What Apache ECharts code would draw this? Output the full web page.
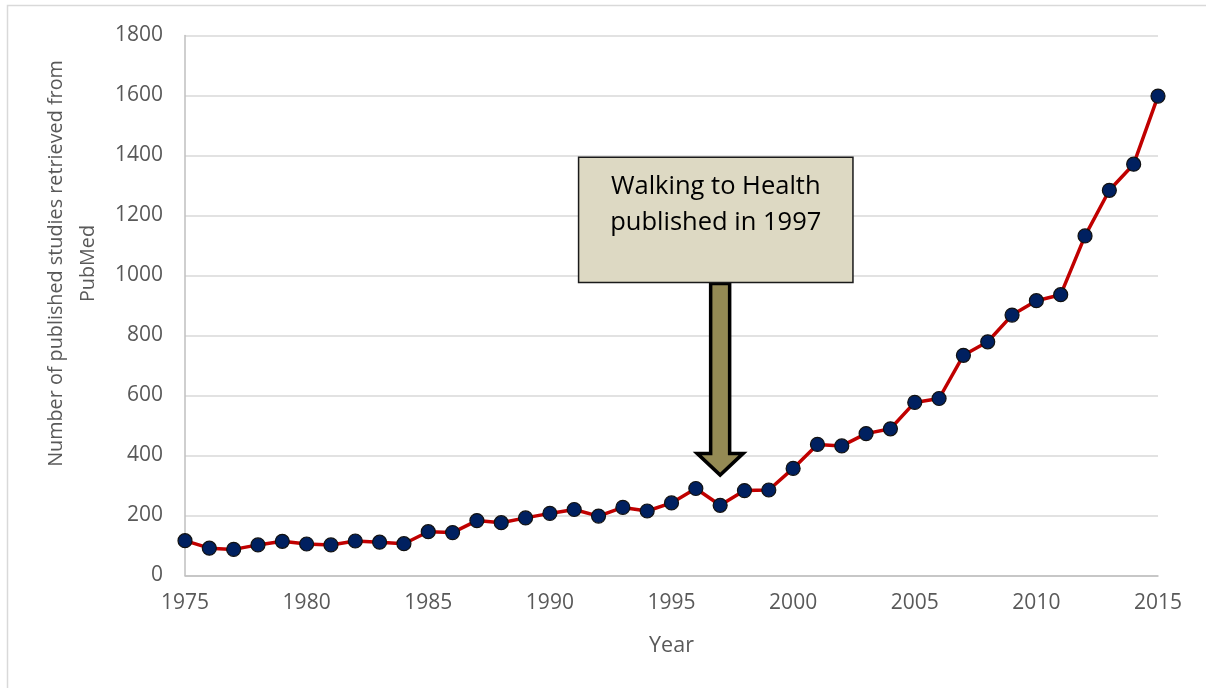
<!DOCTYPE html>
<html>
<head>
<meta charset="utf-8">
<script src="https://cdn.jsdelivr.net/npm/echarts@6/dist/echarts.min.js"></script>
<style>
html,body{margin:0;padding:0;background:#fff;}
#chart{width:1206px;height:688px;}
</style>
</head>
<body>
<div id="chart"></div>
<script>
const years = [1975,1976,1977,1978,1979,1980,1981,1982,1983,1984,1985,1986,1987,1988,1989,1990,1991,1992,1993,1994,1995,1996,1997,1998,1999,2000,2001,2002,2003,2004,2005,2006,2007,2008,2009,2010,2011,2012,2013,2014,2015];
const studies = [116,91,87,102,114,105,102,115,111,106,146,143,183,176,192,207,220,198,227,215,242,290,234,283,285,357,437,432,473,489,577,590,734,779,868,916,936,1132,1284,1371,1598];
const yTicks = [0,200,400,600,800,1000,1200,1400,1600,1800];
const xTicks = [1975,1980,1985,1990,1995,2000,2005,2010,2015];
const annotationYear = 1997;
const annotationLines = ['Walking to Health', 'published in 1997'];
const yTitle = 'Number of published studies retrieved from\nPubMed';
const xTitle = 'Year';

const FONT = '"Open Sans", "Noto Sans", sans-serif';
const chart = echarts.init(document.getElementById('chart'), null, {renderer: 'canvas'});

const option = {
  backgroundColor: '#ffffff',
  animation: false,
  grid: {left: 185, right: 48, top: 35.5, bottom: 112.5, containLabel: false},
  xAxis: {
    type: 'value',
    min: xTicks[0], max: xTicks[xTicks.length - 1], interval: 5,
    name: xTitle, nameLocation: 'middle', nameGap: 59,
    nameTextStyle: {color: '#595959', fontSize: 21.5, fontFamily: FONT},
    axisLine: {show: true, lineStyle: {color: '#bfbfbf', width: 1.5}},
    axisTick: {show: false},
    splitLine: {show: false},
    axisLabel: {color: '#595959', fontSize: 21, fontFamily: FONT, margin: 17, formatter: v => String(v)}
  },
  yAxis: {
    type: 'value',
    min: yTicks[0], max: yTicks[yTicks.length - 1], interval: 200,
    name: yTitle, nameLocation: 'middle', nameGap: 79, nameRotate: 90,
    nameTextStyle: {color: '#595959', fontSize: 19.8, fontFamily: FONT, lineHeight: 32, align: 'center', padding: [0,0,0,84]},
    axisLine: {show: true, lineStyle: {color: '#bfbfbf', width: 1.5}},
    axisTick: {show: false},
    splitLine: {show: true, lineStyle: {color: '#d9d9d9', width: 1.5}},
    axisLabel: {color: '#595959', fontSize: 21, fontFamily: FONT, margin: 22, formatter: v => String(v)}
  },
  series: [{
    type: 'line',
    data: years.map((y, i) => [y, studies[i]]),
    symbol: 'circle',
    symbolSize: 14,
    lineStyle: {color: '#c00000', width: 3.5},
    itemStyle: {color: '#002060', borderColor: '#111111', borderWidth: 1.2},
    z: 3
  }]
};
chart.setOption(option);

// Annotation anchored in data coordinates
const p = (x, y) => chart.convertToPixel({gridIndex: 0}, [x, y]);
const boxTL = p(1991.18, 1394);
const boxBR = p(2002.46, 977);
const cx = p(annotationYear, 0)[0];
const headBase = p(annotationYear, 407)[1];
const tip = p(annotationYear, 335)[1];
const shaftTop = boxBR[1] + 1;
const sw = 9.5, hw = 23;

chart.setOption({
  graphic: [
    {
      type: 'rect', silent: true, z: 0,
      shape: {x: 7.5, y: 5.5, width: 1300, height: 800},
      style: {fill: 'none', stroke: '#d9d9d9', lineWidth: 1.5}
    },
    {
      type: 'polygon', silent: true, z: 10,
      shape: {points: [
        [cx - sw, shaftTop], [cx + sw, shaftTop], [cx + sw, headBase],
        [cx + hw, headBase], [cx, tip], [cx - hw, headBase], [cx - sw, headBase]
      ]},
      style: {fill: '#948a54', stroke: '#000000', lineWidth: 3.5, lineJoin: 'miter'}
    },
    {
      type: 'rect', silent: true, z: 11,
      shape: {x: boxTL[0], y: boxTL[1], width: boxBR[0] - boxTL[0], height: boxBR[1] - boxTL[1]},
      style: {fill: '#ddd9c3', stroke: '#1a1a1a', lineWidth: 1.5}
    },
    {
      type: 'text', silent: true, z: 12,
      x: (boxTL[0] + boxBR[0]) / 2, y: boxTL[1] + 11,
      style: {
        text: annotationLines.join('\n'),
        fill: '#000000', fontSize: 25.5, fontFamily: FONT,
        align: 'center', verticalAlign: 'top', lineHeight: 36
      }
    }
  ]
});
</script>
</body>
</html>
